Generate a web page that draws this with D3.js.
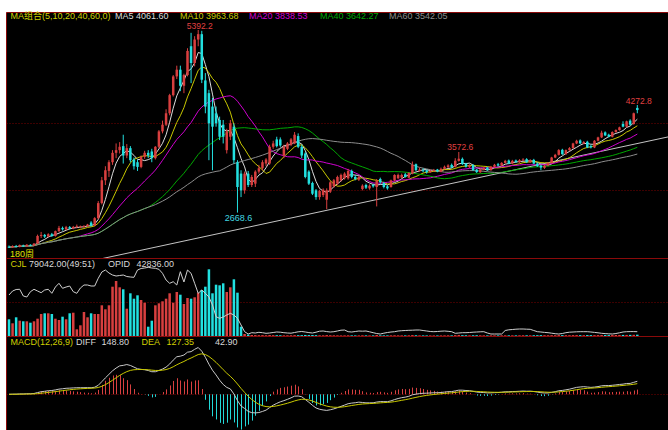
<!DOCTYPE html>
<html><head><meta charset="utf-8">
<script src="https://cdn.jsdelivr.net/npm/d3@7"></script>
<style>
html,body{margin:0;padding:0;background:#fff;}
svg{display:block;}
text{font-family:"Liberation Sans","Noto Sans CJK SC",Arial,sans-serif;font-size:9px;}
</style></head>
<body>
<svg id="c" width="668" height="430"></svg>
<script>
// ---------- DATA (weekly bars) ----------
const opens = [2160,2150,2170,2160,2178,2165,2188,2176,2205,2320,2335,2310,2345,2320,2392,2440,2418,2452,2430,2455,
2450,2462,2465,2520,2475,2585,2810,3150,3290,3420,3560,3600,3660,3520,3630,3460,3420,3350,3500,3560,
3580,3480,3650,3880,3980,4150,4420,4700,4800,4560,4720,5150,4900,5250,5330,4640,4450,4250,4150,4050,
3980,3600,3800,3950,3420,3250,3000,3250,3080,3100,3280,3330,3400,3400,3650,3760,3760,3520,3620,3680,
3700,3810,3650,3550,3280,3110,3000,2900,2930,2860,2980,3060,3100,3150,3180,3180,3290,3200,3160,3020,
3080,3030,3080,3050,3170,3110,3060,3050,3150,3180,3190,3240,3190,3250,3390,3290,3300,3300,3270,3290,
3310,3280,3320,3345,3380,3350,3440,3470,3400,3345,3380,3310,3270,3305,3340,3300,3350,3390,3370,3410,
3445,3400,3445,3420,3450,3465,3420,3455,3400,3370,3335,3370,3410,3490,3530,3605,3540,3600,3630,3700,
3745,3700,3725,3660,3640,3740,3790,3865,3830,3800,3870,3900,3990,3950,4040,3990,4230];
const highs = [2178,2180,2186,2192,2190,2200,2196,2215,2340,2380,2350,2360,2365,2400,2470,2460,2470,2468,2470,2490,
2475,2480,2500,2540,2600,2840,3200,3360,3450,3600,3700,3720,3830,3690,3660,3490,3460,3520,3590,3600,
3620,3660,3900,4040,4210,4440,4720,4860,4860,4740,5120,5350,5300,5392.2,5380,4750,4500,4380,4250,4100,
4050,3920,4050,4000,3450,3300,3280,3290,3230,3300,3380,3450,3480,3680,3740,3800,3790,3680,3720,3780,
3870,3850,3680,3570,3300,3130,3020,3010,3030,3030,3140,3170,3220,3250,3270,3320,3310,3230,3220,3090,
3100,3090,3100,3170,3190,3130,3080,3160,3240,3250,3250,3260,3270,3430,3400,3340,3330,3310,3310,3320,
3320,3340,3370,3390,3400,3480,3572.6,3490,3410,3390,3390,3320,3330,3350,3350,3365,3395,3410,3420,3455,
3460,3455,3460,3465,3480,3480,3465,3470,3415,3380,3385,3420,3500,3545,3615,3620,3610,3645,3710,3755,
3760,3735,3740,3680,3750,3800,3890,3880,3845,3880,3910,3950,4030,4040,4060,4160,4272.8];
const lows = [2140,2142,2150,2150,2155,2158,2168,2170,2200,2290,2290,2300,2305,2310,2380,2400,2405,2415,2420,2440,
2435,2440,2455,2460,2465,2570,2790,3080,3200,3380,3480,3550,3400,3480,3420,3310,3290,3330,3470,3480,
3420,3460,3630,3850,3960,4120,4400,4660,4480,4450,4700,4600,4850,5150,4600,4150,3450,3300,3950,3750,
3700,3550,3750,3400,2668.6,2900,2950,3050,3050,3050,3250,3300,3360,3380,3620,3640,3650,3480,3600,3660,
3690,3630,3480,3180,3080,2930,2860,2860,2900,2720,2960,3040,3080,3130,3160,3160,3180,3150,3140,3000,
3020,3010,3040,2760,3100,3030,3010,3040,3130,3170,3180,3190,3180,3240,3290,3280,3270,3250,3260,3280,
3270,3270,3310,3335,3330,3340,3430,3380,3340,3335,3290,3260,3260,3300,3290,3295,3340,3360,3360,3400,
3390,3390,3410,3410,3440,3410,3410,3390,3350,3300,3320,3360,3400,3480,3520,3530,3530,3590,3620,3690,
3690,3690,3630,3625,3630,3730,3780,3810,3790,3790,3860,3890,3940,3940,3970,3980,4150];
const closes = [2150,2170,2160,2182,2165,2188,2176,2205,2320,2335,2310,2345,2320,2392,2440,2418,2452,2430,2455,2465,
2462,2470,2490,2475,2585,2810,3150,3300,3420,3560,3600,3650,3520,3630,3450,3360,3350,3500,3560,3520,
3480,3650,3880,3980,4150,4420,4700,4800,4560,4720,5080,4900,5250,5330,4650,4250,4000,3950,4000,3800,
3800,3880,4000,3450,3050,3000,3250,3080,3200,3280,3330,3420,3460,3650,3700,3660,3670,3650,3700,3760,
3830,3650,3520,3200,3100,2950,2900,2990,3010,3000,3120,3150,3200,3230,3250,3290,3200,3170,3200,3070,
3040,3070,3060,3150,3120,3050,3030,3150,3230,3230,3230,3200,3260,3380,3300,3310,3290,3272,3292,3302,
3282,3322,3352,3372,3342,3442,3472,3392,3352,3372,3302,3272,3312,3332,3302,3352,3382,3370,3410,3440,
3400,3440,3420,3450,3460,3420,3450,3400,3360,3340,3370,3410,3490,3530,3600,3540,3600,3630,3700,3740,
3700,3720,3640,3640,3740,3790,3860,3820,3800,3870,3900,3940,3950,4030,3980,4150,4198];
const volumes = [1002000,762000,1122000,918000,882000,882000,798000,882000,1038000,1320000,1362000,1362000,1320000,1038000,960000,1158000,1002000,1362000,1398000,402000,
642000,1440000,1122000,1362000,1320000,1320000,1842000,1602000,1842000,2958000,3300000,2922000,2802000,1638000,2562000,2238000,2442000,2160000,1998000,558000,
918000,1842000,1962000,2082000,2238000,2562000,1998000,2640000,2478000,1920000,2280000,2238000,2322000,2598000,2760000,2958000,4002000,2562000,3078000,3042000,
3162000,2640000,2922000,3402000,2598000,558000,120000,85000,60000,55000,48000,52000,45000,60000,50000,47000,44000,40000,42000,45000,
52000,48000,50000,62000,55000,58000,50000,42000,40000,55000,45000,40000,38000,35000,37000,40000,38000,35000,36000,42000,
38000,35000,36000,60000,40000,38000,36000,40000,42000,38000,37000,36000,40000,55000,45000,38000,36000,35000,34000,35000,
33000,36000,38000,40000,38000,52000,62000,50000,45000,40000,44000,46000,40000,38000,37000,39000,41000,38000,40000,42000,
41000,40000,39000,42000,44000,43000,41000,45000,48000,52000,47000,45000,50000,48000,55000,52000,48000,47000,52000,54000,
50000,48000,56000,52000,50000,54000,60000,58000,55000,57000,60000,62000,66000,64000,68000,72000,79042];
const openInterest = [410000,450000,465000,467000,400000,390000,443000,467000,450000,433000,460000,467000,427000,490000,527000,477000,490000,500000,443000,427000,
480000,510000,510000,500000,500000,577000,640000,660000,630000,610000,600000,605000,610000,595000,590000,587000,660000,675000,680000,687000,
680000,677000,667000,627000,560000,527000,543000,510000,643000,540000,660000,627000,527000,427000,460000,427000,390000,310000,193000,177000,
190000,210000,227000,210000,177000,110000,43000,20000,33000,30000,37000,33000,27000,30000,35000,40000,38000,33000,30000,28000,
35000,42000,45000,40000,34000,30000,38000,48000,50000,44000,40000,43000,50000,58000,60000,43000,40000,45000,50000,48000,
50000,42000,33000,25000,20000,28000,35000,40000,43000,50000,53000,55000,57000,58000,60000,60000,55000,50000,45000,43000,
45000,48000,50000,47000,43000,27000,30000,33000,33000,35000,38000,40000,42000,43000,30000,20000,20000,20000,20000,55000,
62000,65000,68000,70000,70000,68000,67000,55000,43000,40000,36000,33000,28000,23000,20000,25000,33000,38000,40000,42000,
43000,43000,43000,40000,36000,32000,27000,24000,22000,20000,25000,32000,40000,43000,44000,44000,42836];
const maPeriods = [5, 10, 20, 40, 60];
const maColors = ["#dcdcdc", "#c8c800", "#d000d0", "#00a800", "#8c8c8c"];
const maHeader = ["MA5 4061.60", "MA10 3963.68", "MA20 3838.53", "MA40 3642.27", "MA60 3542.05"];
const priceGrid = [3000, 4000];
const trendLine = [{idx: 25.5, price: 1975}, {idx: 184.6, price: 3797}];
const markHigh = [{idx: 53, label: "5392.2"}, {idx: 126, label: "3572.6"}, {idx: 176, label: "4272.8"}];
const markLow = [{idx: 64, label: "2668.6"}];

// ---------- LAYOUT ----------
const svg = d3.select("#c");
const W = 668, H = 430;
const L = 6.5, T = 12.5, MAINB = 258.5, VOLB = 336.5;
const UP = "#d83f3f", DOWN = "#22e0e0", GRID = "#7a0000", BORDER = "#8a0a0a";

svg.append("rect").attr("x", L).attr("y", T).attr("width", W - L).attr("height", H - T).attr("fill", "#000");

const idx = d3.range(closes.length);
const x = d3.scalePoint().domain(idx).range([9, 637.3]);
const xl = d3.scaleLinear().domain([0, closes.length - 1]).range([9, 637.3]);
const y = d3.scaleLinear().domain([2000, 5392.2]).range([257.4, 30]);
const yv = d3.scaleLinear().domain([0, 4080000]).range([336, 268]);
const yo = d3.scaleLinear().domain([0, 680000]).range([336, 268]);

const defs = svg.append("defs");
defs.append("clipPath").attr("id", "cm").append("rect").attr("x", L).attr("y", T).attr("width", W - L).attr("height", MAINB - T);
defs.append("clipPath").attr("id", "cv").append("rect").attr("x", L).attr("y", MAINB).attr("width", W - L).attr("height", VOLB - MAINB);
defs.append("clipPath").attr("id", "cd").append("rect").attr("x", L).attr("y", VOLB).attr("width", W - L).attr("height", H - VOLB);

// grid lines
const gm = svg.append("g").attr("clip-path", "url(#cm)");
gm.selectAll("line.g").data(priceGrid).join("line")
  .attr("x1", L).attr("x2", W).attr("y1", d => Math.round(y(d)) + 0.5).attr("y2", d => Math.round(y(d)) + 0.5)
  .attr("stroke", GRID).attr("stroke-dasharray", "1,2");

// trend line
gm.append("line")
  .attr("x1", xl(trendLine[0].idx)).attr("y1", y(trendLine[0].price))
  .attr("x2", xl(trendLine[1].idx)).attr("y2", y(trendLine[1].price))
  .attr("stroke", "#c4c4c4").attr("stroke-width", 1);

// moving averages
function movingAvg(n) {
  return closes.map((c, i) => d3.mean(closes.slice(Math.max(0, i - n + 1), i + 1)));
}
maPeriods.forEach((n, k) => {
  const vals = movingAvg(n);
  gm.append("path").datum(vals)
    .attr("d", d3.line().x((d, i) => x(i)).y(d => y(d)))
    .attr("fill", "none").attr("stroke", maColors[k]).attr("stroke-width", 1);
});

// candles
const cg = gm.append("g");
idx.forEach(i => {
  const o = opens[i], c = closes[i], up = c >= o;
  const col = up ? UP : DOWN;
  const cx = x(i);
  cg.append("line").attr("x1", cx).attr("x2", cx).attr("y1", y(highs[i])).attr("y2", y(lows[i]))
    .attr("stroke", col).attr("stroke-width", 1);
  const top = y(Math.max(o, c)), bot = y(Math.min(o, c));
  cg.append("rect").attr("x", cx - 1.25).attr("width", 2.5)
    .attr("y", top).attr("height", Math.max(1, bot - top)).attr("fill", col);
});

// extreme labels
gm.selectAll("text.hi").data(markHigh).join("text")
  .attr("x", d => x(d.idx) + 1.5).attr("y", d => y(highs[d.idx]) - 1.5)
  .attr("text-anchor", "middle").attr("fill", "#e04040").style("font-size", "8.5px").text(d => d.label);
gm.selectAll("text.lo").data(markLow).join("text")
  .attr("x", d => x(d.idx) + 1).attr("y", d => y(lows[d.idx]) + 8)
  .attr("text-anchor", "middle").attr("fill", "#40d8e0").text(d => d.label);

// period tag
svg.append("text").attr("x", 10).attr("y", 256.5).attr("fill", "#e0e000").text("180周");

// ---------- VOLUME PANEL ----------
const gv = svg.append("g").attr("clip-path", "url(#cv)");
gv.append("line").attr("x1", L).attr("x2", W).attr("y1", Math.round(yv(2040000)) + 0.5).attr("y2", Math.round(yv(2040000)) + 0.5)
  .attr("stroke", GRID).attr("stroke-dasharray", "1,2");
idx.forEach(i => {
  const col = closes[i] >= opens[i] ? UP : DOWN;
  const t = yv(volumes[i]);
  gv.append("rect").attr("x", x(i) - 1.25).attr("width", 2.5).attr("y", t).attr("height", 336 - t).attr("fill", col);
});
gv.append("path").datum(openInterest)
  .attr("d", d3.line().x((d, i) => x(i)).y(d => yo(d)))
  .attr("fill", "none").attr("stroke", "#cfcfcf").attr("stroke-width", 1);

// ---------- MACD PANEL ----------
function ema(arr, n) {
  const a = 2 / (n + 1); const out = []; let prev = arr[0];
  arr.forEach((v, i) => { prev = i === 0 ? v : a * v + (1 - a) * prev; out.push(prev); });
  return out;
}
const e12 = ema(closes, 12), e26 = ema(closes, 26);
const diff = e12.map((v, i) => v - e26[i]);
const dea = ema(diff, 9);
const hist = diff.map((v, i) => 2 * (v - dea[i]));
const ym = d3.scaleLinear().domain([-400, 600]).range([428.2, 343.45]);

const gd = svg.append("g").attr("clip-path", "url(#cd)");
gd.append("line").attr("x1", L).attr("x2", W).attr("y1", Math.round(ym(0)) + 0.5).attr("y2", Math.round(ym(0)) + 0.5)
  .attr("stroke", GRID).attr("stroke-dasharray", "1,2");
idx.forEach(i => {
  gd.append("line").attr("x1", Math.round(x(i)) + 0.5).attr("x2", Math.round(x(i)) + 0.5)
    .attr("y1", ym(0)).attr("y2", ym(hist[i]))
    .attr("stroke", hist[i] >= 0 ? "#d84040" : "#22d8d8").attr("stroke-width", 1);
});
gd.append("path").datum(diff).attr("d", d3.line().x((d, i) => x(i)).y(d => ym(d)))
  .attr("fill", "none").attr("stroke", "#c8c8c8").attr("stroke-width", 1);
gd.append("path").datum(dea).attr("d", d3.line().x((d, i) => x(i)).y(d => ym(d)))
  .attr("fill", "none").attr("stroke", "#c8c800").attr("stroke-width", 1);

// ---------- BORDERS ----------
svg.append("line").attr("x1", L).attr("x2", W).attr("y1", T).attr("y2", T).attr("stroke", BORDER);
svg.append("line").attr("x1", L).attr("x2", L).attr("y1", T).attr("y2", H).attr("stroke", BORDER);
svg.append("line").attr("x1", L).attr("x2", W).attr("y1", MAINB).attr("y2", MAINB).attr("stroke", BORDER);
svg.append("line").attr("x1", L).attr("x2", W).attr("y1", VOLB).attr("y2", VOLB).attr("stroke", BORDER);

// ---------- HEADERS ----------
const hdr = [
  {x: 10.5, y: 18.5, t: "MA组合(5,10,20,40,60,0)", c: "#d0d000"},
  {x: 115, y: 18.5, t: maHeader[0], c: maColors[0]},
  {x: 180, y: 18.5, t: maHeader[1], c: maColors[1]},
  {x: 249, y: 18.5, t: maHeader[2], c: maColors[2]},
  {x: 320, y: 18.5, t: maHeader[3], c: maColors[3]},
  {x: 389, y: 18.5, t: maHeader[4], c: maColors[4]},
  {x: 10.5, y: 267, t: "CJL", c: "#d0d000"},
  {x: 29, y: 267, t: "79042.00(49:51)", c: "#d8d8d8"},
  {x: 108, y: 267, t: "OPID", c: "#d8d8d8"},
  {x: 136.5, y: 267, t: "42836.00", c: "#d8d8d8"},
  {x: 10.5, y: 344.5, t: "MACD(12,26,9)", c: "#d0d000"},
  {x: 76, y: 344.5, t: "DIFF", c: "#d8d8d8"},
  {x: 101.5, y: 344.5, t: "148.80", c: "#d8d8d8"},
  {x: 141.5, y: 344.5, t: "DEA", c: "#d0d000"},
  {x: 166.5, y: 344.5, t: "127.35", c: "#d0d000"},
  {x: 215, y: 344.5, t: "42.90", c: "#d8d8d8"}
];
svg.selectAll("text.h").data(hdr).join("text").attr("class", "h")
  .attr("x", d => d.x).attr("y", d => d.y).attr("fill", d => d.c).text(d => d.t);
</script>
</body></html>
